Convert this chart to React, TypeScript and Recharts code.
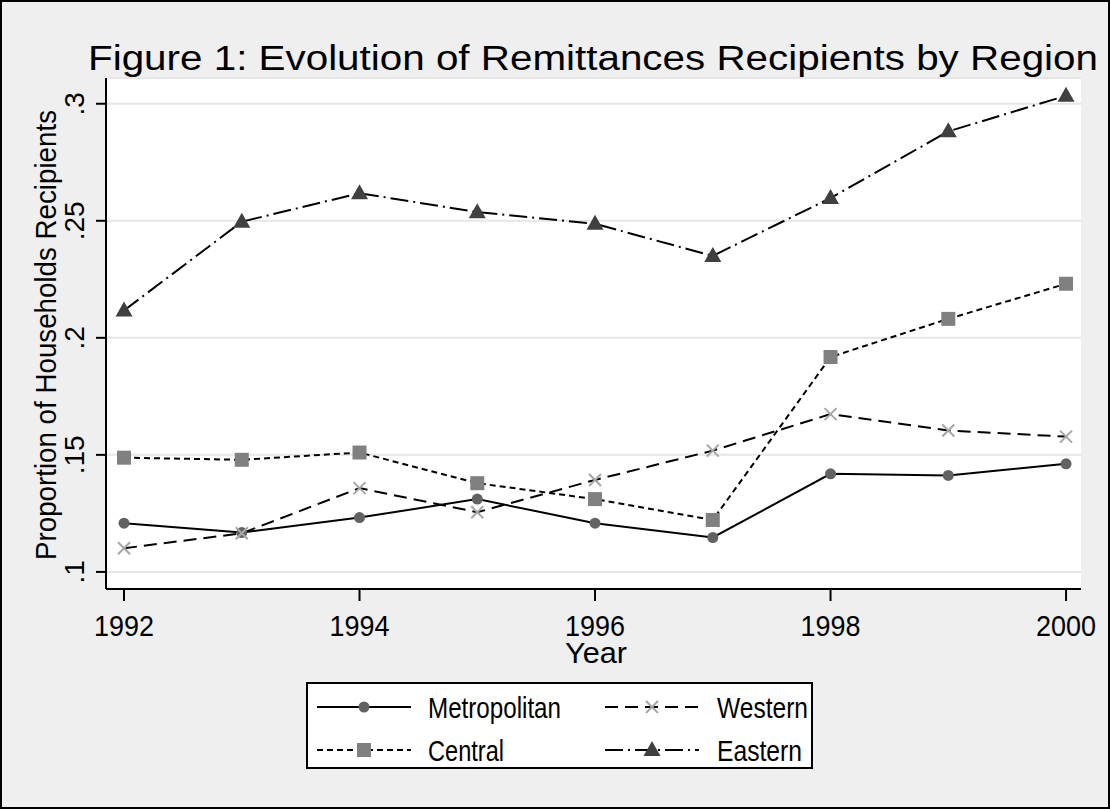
import React from 'react';
import { LineChart, Line, XAxis, YAxis, CartesianGrid, Label } from 'recharts';

// Years and proportion of recipient households per region
const years = [1992, 1993, 1994, 1995, 1996, 1997, 1998, 1999, 2000];
const metropolitan = [0.1208, 0.1168, 0.1232, 0.1311, 0.1208, 0.1147, 0.1419, 0.1412, 0.1462];
const western = [0.1101, 0.1165, 0.1358, 0.1255, 0.1393, 0.1518, 0.1674, 0.1604, 0.1578];
const central = [0.1488, 0.1479, 0.151, 0.1379, 0.1311, 0.1222, 0.1918, 0.2081, 0.2231];
const eastern = [0.2117, 0.2496, 0.2618, 0.2537, 0.2487, 0.235, 0.2597, 0.2882, 0.3034];

const xTicks = [1992, 1994, 1996, 1998, 2000];
const yTicks = [0.1, 0.15, 0.2, 0.25, 0.3];

const FONT = '"Liberation Sans", Arial, sans-serif';

const data = years.map((year, i) => ({
  year,
  metropolitan: metropolitan[i],
  western: western[i],
  central: central[i],
  eastern: eastern[i],
}));

// marker shapes, Stata style
const CircleMark = ({ cx, cy }: { cx: number; cy: number }) => (
  <circle cx={cx} cy={cy} r={5.5} fill="#626262" />
);
const SquareMark = ({ cx, cy }: { cx: number; cy: number }) => (
  <rect x={cx - 7} y={cy - 7} width={14} height={14} fill="#808080" />
);
const CrossMark = ({ cx, cy }: { cx: number; cy: number }) => (
  <g stroke="#a6a6a6" strokeWidth={2}>
    <line x1={cx - 6} y1={cy - 6} x2={cx + 6} y2={cy + 6} />
    <line x1={cx - 6} y1={cy + 6} x2={cx + 6} y2={cy - 6} />
  </g>
);
const TriangleMark = ({ cx, cy }: { cx: number; cy: number }) => (
  <polygon points={`${cx},${cy - 9} ${cx + 8.5},${cy + 6} ${cx - 8.5},${cy + 6}`} fill="#404040" />
);

const dotOf = (Mark: any) => (props: any) => <Mark key={`m-${props.index}`} cx={props.cx} cy={props.cy} />;

const SERIES = [
  { key: 'metropolitan', name: 'Metropolitan', dash: undefined, Mark: CircleMark, textLen: 133 },
  { key: 'western', name: 'Western', dash: '13 7', Mark: CrossMark, textLen: 91 },
  { key: 'central', name: 'Central', dash: '6 4', Mark: SquareMark, textLen: 76 },
  { key: 'eastern', name: 'Eastern', dash: '18 5 2 5', Mark: TriangleMark, textLen: 85 },
];

const fmt = (v: number) => String(Number(v.toFixed(2))).replace(/^0/, '');

const YTick = (props: any) => {
  const { y, payload } = props;
  const cx = 75;
  return (
    <text
      x={cx}
      y={y}
      transform={`rotate(-90 ${cx} ${y})`}
      textAnchor="middle"
      dominantBaseline="central"
      fontSize={28}
      fontFamily={FONT}
      fill="#000"
    >
      {fmt(payload.value)}
    </text>
  );
};

const XTick = (props: any) => {
  const { x, y, payload } = props;
  return (
    <text
      x={x}
      y={y + 33}
      textAnchor="middle"
      fontSize={30}
      fontFamily={FONT}
      fill="#000"
      textLength={60}
      lengthAdjust="spacingAndGlyphs"
    >
      {payload.value}
    </text>
  );
};

const LegendBox = () => (
  <svg
    width={600}
    height={87}
    style={{ position: 'absolute', left: 306, top: 682 }}
  >
    <rect x={1} y={1} width={505} height={85} fill="#fff" stroke="#000" strokeWidth={2} />
    {SERIES.map((s, i) => {
      const col = i % 2;
      const row = Math.floor(i / 2);
      const x0 = col === 0 ? 11 : 299;
      const cy = row === 0 ? 25 : 68;
      const tx = col === 0 ? 122 : 411;
      return (
        <g key={s.key}>
          <line x1={x0} y1={cy} x2={x0 + 94} y2={cy} stroke="#000" strokeWidth={2} strokeDasharray={s.dash} />
          <s.Mark cx={x0 + 47} cy={cy} />
          <text
            x={tx}
            y={cy + 11}
            fontSize={30}
            fontFamily={FONT}
            textLength={s.textLen}
            lengthAdjust="spacingAndGlyphs"
          >
            {s.name}
          </text>
        </g>
      );
    })}
  </svg>
);

export default function App() {
  return (
    <div
      style={{
        position: 'absolute',
        left: 0,
        top: 0,
        width: 1110,
        height: 809,
        background: '#efefef',
        overflow: 'hidden',
      }}
    >
      <svg width={1110} height={60} style={{ position: 'absolute', left: 0, top: 20 }}>
        <text
          x={593}
          y={50}
          textAnchor="middle"
          fontSize={35}
          fontFamily={FONT}
          textLength={1010}
          lengthAdjust="spacingAndGlyphs"
        >
          Figure 1: Evolution of Remittances Recipients by Region
        </text>
      </svg>
      <div style={{ position: 'absolute', left: 0, top: 0 }}>
        <LineChart width={1110} height={809} data={data} margin={{ top: 78, right: 29, left: 46, bottom: 140 }}>
          <CartesianGrid vertical={false} stroke="#e6e6e6" strokeWidth={2} fill="#ffffff" />
          <XAxis
            dataKey="year"
            type="number"
            domain={[1991.847, 2000.127]}
            ticks={xTicks}
            allowDataOverflow
            height={80}
            stroke="#000"
            strokeWidth={2}
            tickSize={12}
            tick={<XTick />}
          >
            <Label
              content={() => (
                <text
                  x={596}
                  y={663}
                  textAnchor="middle"
                  fontSize={29}
                  fontFamily={FONT}
                  textLength={62}
                  lengthAdjust="spacingAndGlyphs"
                >
                  Year
                </text>
              )}
            />
          </XAxis>
          <YAxis
            type="number"
            domain={[0.0927, 0.311]}
            ticks={yTicks}
            allowDataOverflow
            width={60}
            stroke="#000"
            strokeWidth={2}
            tickSize={10}
            tick={<YTick />}
          >
            <Label
              content={() => (
                <text
                  x={46}
                  y={335}
                  transform="rotate(-90 46 335)"
                  textAnchor="middle"
                  dominantBaseline="central"
                  fontSize={29}
                  fontFamily={FONT}
                  textLength={450}
                  lengthAdjust="spacingAndGlyphs"
                >
                  Proportion of Households Recipients
                </text>
              )}
            />
          </YAxis>
          {SERIES.map((s) => (
            <Line
              key={s.key}
              type="linear"
              dataKey={s.key}
              name={s.name}
              stroke="#000"
              strokeWidth={2}
              strokeDasharray={s.dash}
              dot={dotOf(s.Mark)}
              activeDot={false}
              isAnimationActive={false}
            />
          ))}
        </LineChart>
      </div>
      <LegendBox />
      <div
        style={{
          position: 'absolute',
          left: 0,
          top: 0,
          width: 1110,
          height: 809,
          border: '2px solid #000',
          boxSizing: 'border-box',
          pointerEvents: 'none',
        }}
      />
    </div>
  );
}
